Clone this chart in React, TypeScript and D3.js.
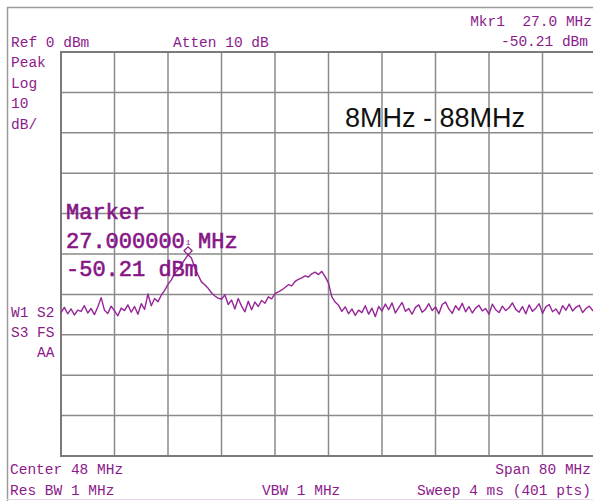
import React, { useEffect, useRef } from 'react';
import * as d3 from 'd3';

// Sweep: 8 MHz .. 88 MHz, read every 0.5 MHz off the screen
const startFreq = 8;
const stopFreq = 88;
const stepFreq = 0.5;

const traceDbm = [
  // 8.0 - 13.5
  -64.5, -63.2, -64.8, -63.6, -65.1, -63.9, -64.2, -62.8, -64.6, -63.5, -65.0, -63.1,
  // 14.0 - 17.5
  -60.8, -63.9, -64.7, -62.9, -64.1, -65.3, -63.4, -64.0,
  // 18.0 - 21.5
  -62.6, -64.4, -63.0, -64.9, -62.3, -63.7, -59.9, -62.8,
  // 22.0 - 27.5 (first hump)
  -61.0, -61.8, -60.2, -59.0, -57.5, -56.4, -54.8, -53.9, -52.6, -51.4, -50.2, -51.0,
  // 28.0 - 33.5
  -53.4, -55.2, -56.9, -57.6, -58.5, -59.6, -60.4, -60.9, -61.2, -60.1, -62.5, -61.4,
  // 34.0 - 39.5
  -63.6, -61.0, -62.9, -64.3, -61.7, -63.8, -61.9, -63.0, -61.5, -62.2, -60.6, -61.1,
  // 40.0 - 45.5 (second hump)
  -59.8, -59.4, -58.9, -58.3, -57.6, -57.9, -56.8, -56.3, -55.9, -55.4, -55.7, -54.9,
  // 46.0 - 50.0
  -54.5, -55.1, -54.3, -55.6, -57.2, -60.6, -61.9, -62.7, -64.2,
  // 50.5 - 88.0
  -63.1, -64.8, -63.6, -65.2, -63.9, -64.5, -62.8, -64.9, -63.4, -65.5,
  -63.0, -64.1, -62.4, -63.8, -62.1, -64.6, -63.3, -62.0, -64.2, -63.5,
  -64.9, -63.2, -62.6, -64.4, -63.7, -62.3, -64.0, -63.1, -64.8, -62.5,
  -61.9, -63.6, -64.7, -62.8, -63.9, -62.2, -64.3, -63.0, -64.6, -63.4,
  -62.7, -64.1, -63.5, -64.9, -62.4, -63.8, -64.5, -62.9, -64.0, -63.3,
  -62.1, -63.7, -64.4, -63.0, -64.8, -62.6, -64.2, -63.4, -62.3, -64.7,
  -63.1, -62.5, -64.3, -63.6, -64.9, -62.8, -63.9, -62.4,
  -64.1, -63.2, -62.7, -64.5, -63.5, -62.9, -64.0, -63.3,
];

const refLevel = 0;
const dbPerDiv = 10;
const divisions = 10;

const markerFreq = 27.0;
const markerDbm = -50.21;

const topLabels = [
  { text: 'Ref 0 dBm', x: 11, y: 47, anchor: 'start' },
  { text: 'Atten 10 dB', x: 173, y: 47, anchor: 'start' },
  { text: 'Mkr1  27.0 MHz', x: 592, y: 26, anchor: 'end' },
  { text: '-50.21 dBm', x: 588, y: 46, anchor: 'end' },
];
const sideLabels = [
  { text: 'Peak', x: 11, y: 67 },
  { text: 'Log', x: 11, y: 87.5 },
  { text: '10', x: 11, y: 108 },
  { text: 'dB/', x: 11, y: 128.5 },
  { text: 'W1 S2', x: 11, y: 316.5 },
  { text: 'S3 FS', x: 11, y: 336.5 },
  { text: 'AA', x: 37, y: 356.5 },
];
const bottomLabels = [
  { text: 'Center 48 MHz', x: 10, y: 474, anchor: 'start' },
  { text: 'Span 80 MHz', x: 591, y: 474, anchor: 'end' },
  { text: 'Res BW 1 MHz', x: 10, y: 495, anchor: 'start' },
  { text: 'VBW 1 MHz', x: 262, y: 495, anchor: 'start' },
  { text: 'Sweep 4 ms (401 pts)', x: 591, y: 495, anchor: 'end' },
];
const markerLines = ['Marker', '27.000000 MHz', '-50.21 dBm'];

const PURPLE = '#8c1a8c';
const MONO = '"Liberation Mono", "DejaVu Sans Mono", monospace';

const App = () => {
  const svgRef = useRef<SVGSVGElement>(null);

  useEffect(() => {
    if (!svgRef.current) return;
    const width = 593;
    const height = 501;
    const svg = d3.select(svgRef.current);
    svg.selectAll('*').remove();

    const left = 61, top = 52, right = 596, bottom = 456;

    const x = d3.scaleLinear().domain([startFreq, stopFreq]).range([left, right]);
    const y = d3.scaleLinear()
      .domain([refLevel - dbPerDiv * divisions, refLevel])
      .range([bottom, top]);

    svg.append('rect').attr('width', width).attr('height', height).attr('fill', '#fff');

    // outer frame
    svg.append('line').attr('x1', 7).attr('x2', width).attr('y1', 7.5).attr('y2', 7.5)
      .attr('stroke', '#9a9a9a').attr('stroke-width', 1.5);
    svg.append('line').attr('x1', 7.5).attr('x2', 7.5).attr('y1', 7).attr('y2', height)
      .attr('stroke', '#9a9a9a').attr('stroke-width', 1.5);
    svg.append('line').attr('x1', 7).attr('x2', width).attr('y1', 499.5).attr('y2', 499.5)
      .attr('stroke', '#ead8ea').attr('stroke-width', 1);

    // graticule
    const g = svg.append('g');
    const freqLines = d3.range(0, divisions + 1).map(i => startFreq + i * (stopFreq - startFreq) / divisions);
    const levelLines = d3.range(0, divisions + 1).map(i => refLevel - i * dbPerDiv);

    g.selectAll('line.v').data(freqLines).enter().append('line')
      .attr('x1', d => x(d)).attr('x2', d => x(d))
      .attr('y1', top).attr('y2', bottom)
      .attr('stroke', '#8a8a8a').attr('stroke-width', 1.5);
    g.selectAll('line.h').data(levelLines).enter().append('line')
      .attr('x1', left).attr('x2', right)
      .attr('y1', d => y(d)).attr('y2', d => y(d))
      .attr('stroke', '#8a8a8a').attr('stroke-width', 1.5);
    // heavier border
    g.append('path')
      .attr('d', `M${right},${top}H${left}V${bottom}H${right}`)
      .attr('fill', 'none').attr('stroke', '#7a7a7a').attr('stroke-width', 2);

    // trace
    const line = d3.line<number>()
      .x((_, i) => x(startFreq + i * stepFreq))
      .y(d => y(d));
    svg.append('path')
      .datum(traceDbm)
      .attr('d', line)
      .attr('fill', 'none')
      .attr('stroke', '#96259a')
      .attr('stroke-width', 1.4)
      .attr('stroke-linejoin', 'round');

    // marker
    const mx = x(markerFreq);
    const my = y(markerDbm);
    svg.append('path')
      .attr('d', `M${mx},${my} l4,-4 l-4,-4 l-4,4 z`)
      .attr('fill', 'none').attr('stroke', PURPLE).attr('stroke-width', 1.3);
    svg.append('text')
      .attr('x', mx).attr('y', my - 10)
      .attr('text-anchor', 'middle')
      .attr('font-family', MONO).attr('font-size', 8)
      .attr('fill', PURPLE)
      .text('1');

    // marker readout
    markerLines.forEach((t, i) => {
      svg.append('text')
        .attr('x', 66).attr('y', 219 + i * 28.5)
        .attr('font-family', MONO).attr('font-size', 22)
        .attr('fill', '#861586')
        .attr('stroke', '#861586').attr('stroke-width', 0.6)
        .attr('xml:space', 'preserve')
        .text(t);
    });

    // annotations
    const labelAttrs = (sel: any) => sel
      .attr('font-family', MONO).attr('font-size', 14.5)
      .attr('fill', PURPLE)
      .attr('xml:space', 'preserve');

    [...topLabels, ...bottomLabels].forEach(l => {
      svg.append('text').call(labelAttrs)
        .attr('x', l.x).attr('y', l.y)
        .attr('text-anchor', l.anchor)
        .style('white-space', 'pre')
        .text(l.text);
    });
    sideLabels.forEach(l => {
      svg.append('text').call(labelAttrs)
        .attr('x', l.x).attr('y', l.y)
        .style('white-space', 'pre')
        .text(l.text);
    });

    // band caption
    svg.append('text')
      .attr('x', 345).attr('y', 126.5)
      .attr('font-family', '"Liberation Sans", Arial, sans-serif')
      .attr('font-size', 27)
      .attr('fill', '#111')
      .text('8MHz - 88MHz');
  }, []);

  return (
    <svg
      ref={svgRef}
      width={593}
      height={501}
      viewBox="0 0 593 501"
      style={{ position: 'absolute', left: 0, top: 0, display: 'block' }}
    />
  );
};

export default App;
